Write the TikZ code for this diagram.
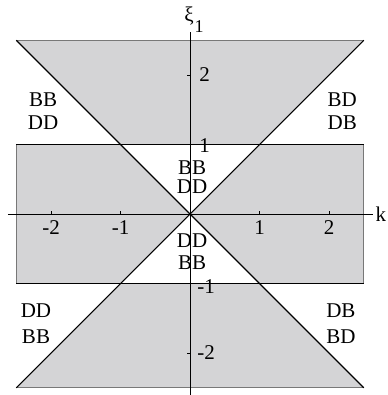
\documentclass[tikz,border=0pt]{standalone}
\usepackage{fontspec}
\setmainfont{Liberation Serif}
\definecolor{regiongray}{RGB}{212,212,214}
\definecolor{edgegray}{RGB}{120,120,120}
\begin{document}
\begin{tikzpicture}[x=69.5pt,y=69.5pt,
  lbl/.style={font=\fontsize{21}{21}\selectfont, inner sep=0pt},
  tick/.style={font=\fontsize{21}{21}\selectfont, inner sep=0pt}]
\useasboundingbox (-2.734,-2.604) rectangle (2.835,3.079);
% shaded regions
\fill[regiongray] (-2.5,2.5) -- (2.5,2.5) -- (1,1) -- (-1,1) -- cycle;
\fill[regiongray] (-2.5,-2.5) -- (2.5,-2.5) -- (1,-1) -- (-1,-1) -- cycle;
\fill[regiongray] (-2.5,1) -- (-1,1) -- (0,0) -- (-1,-1) -- (-2.5,-1) -- cycle;
\fill[regiongray] (2.5,1) -- (1,1) -- (0,0) -- (1,-1) -- (2.5,-1) -- cycle;
% gray edges
\draw[edgegray, line width=1pt] (-2.5,2.5) -- (2.5,2.5);
\draw[edgegray, line width=1pt] (-2.5,-2.5) -- (2.5,-2.5);
\draw[edgegray, line width=0.8pt] (-2.5,1) -- (-2.5,-1);
\draw[edgegray, line width=0.8pt] (2.5,1) -- (2.5,-1);
% diagonals
\draw[line width=1.1pt] (-2.5,2.5) -- (2.5,-2.5);
\draw[line width=1.1pt] (-2.5,-2.5) -- (2.5,2.5);
% horizontal boundaries
\draw[line width=1.8pt] (-2.5,1) -- (2.5,1);
\draw[line width=1.8pt] (-2.5,-1) -- (2.5,-1);
% axes
\coordinate (xl) at (-2.62,0);
\coordinate (xr) at (2.63,0);
\coordinate (yb) at (0,-2.604);
\coordinate (yt) at (0,2.62);
\draw[line width=1pt] (xl) -- (xr);
\draw[line width=1pt] (yb) -- (yt);
\foreach \k in {-2,-1,1,2} \draw[line width=0.6pt] (\k,0) -- (\k,0.045);
\foreach \k in {-2,2} \draw[line width=0.6pt] (0,\k) -- (-0.045,\k);
\node[tick] (kx) at (2.745,-0.01) {k};
\node[tick] (xi) at (-0.015,2.85) {ξ};
\node[inner sep=0pt, font=\fontsize{18}{18}\selectfont] (xisub) at (0.13,2.7) {1};
% tick labels
\node[tick] (tm2) at (-2,-0.194) {-2};
\node[tick] (tm1) at (-1,-0.194) {-1};
\node[tick] (tp1) at (1,-0.194) {1};
\node[tick] (tp2) at (2,-0.194) {2};
\node[tick] (v2) at (0.209,2.0) {2};
\node[tick] (vm2) at (0.23,-2.0) {-2};
\node[tick] (v1) at (0.209,0.986) {1};
\node[tick] (vm1) at (0.23,-1.04) {-1};
% region labels
\node[lbl] (tl1) at (-2.115,1.64) {BB};
\node[lbl] (tl2) at (-2.115,1.31) {DD};
\node[lbl] (tr1) at (2.19,1.64) {BD};
\node[lbl] (tr2) at (2.19,1.31) {DB};
\node[lbl] (ct1) at (0.03,0.67) {BB};
\node[lbl] (ct2) at (0.03,0.39) {DD};
\node[lbl] (cb1) at (0.03,-0.39) {DD};
\node[lbl] (cb2) at (0.03,-0.7) {BB};
\node[lbl] (bl1) at (-2.216,-1.39) {DD};
\node[lbl] (bl2) at (-2.216,-1.765) {BB};
\node[lbl] (br1) at (2.17,-1.39) {DB};
\node[lbl] (br2) at (2.17,-1.765) {BD};
\end{tikzpicture}
\end{document}
